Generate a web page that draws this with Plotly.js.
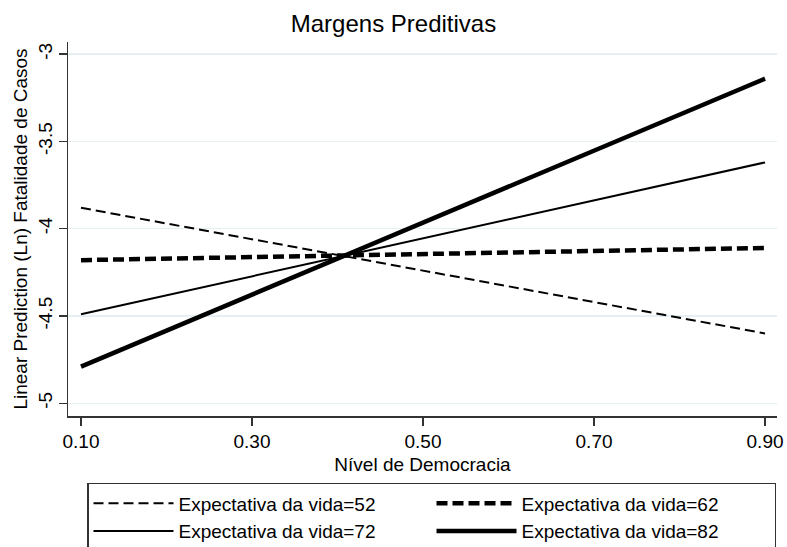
<!DOCTYPE html>
<html>
<head>
<meta charset="utf-8">
<script src="https://cdn.plot.ly/plotly-3.0.1.min.js"></script>
<style>
  html, body { margin: 0; padding: 0; background: #ffffff; overflow: hidden; }
  #chart { width: 787px; height: 566px; }
</style>
</head>
<body>
<div id="chart"></div>
<script>
// Democracy level (x) at which the margins were evaluated
const democracia = [0.10, 0.90];

// Linear prediction (Ln case fatality) for each life-expectancy level
const vida52 = [-3.88, -4.60];
const vida62 = [-4.18, -4.11];
const vida72 = [-4.49, -3.62];
const vida82 = [-4.79, -3.14];

const seriesNames = [
  "Expectativa da vida=52",
  "Expectativa da vida=62",
  "Expectativa da vida=72",
  "Expectativa da vida=82"
];

const xTickVals = [0.10, 0.30, 0.50, 0.70, 0.90];
const xTickText = ["0.10", "0.30", "0.50", "0.70", "0.90"];
const yTickVals = [-5, -4.5, -4, -3.5, -3];
const yTickText = ["-5", "-4.5", "-4", "-3.5", "-3"];

const FONT = "Liberation Sans, Arial, Helvetica, sans-serif";

const traces = [
  { x: democracia, y: vida52, name: seriesNames[0], mode: "lines",
    line: { color: "#000000", width: 2, dash: "10px,5px" } },
  { x: democracia, y: vida62, name: seriesNames[1], mode: "lines",
    line: { color: "#000000", width: 4.5, dash: "11px,5px" } },
  { x: democracia, y: vida72, name: seriesNames[2], mode: "lines",
    line: { color: "#000000", width: 2 } },
  { x: democracia, y: vida82, name: seriesNames[3], mode: "lines",
    line: { color: "#000000", width: 4.5 } }
];

// The reference picture is cropped at the bottom (legend box cut off),
// so the figure is a little taller than the 547px window.
const H = 566;
const layout = {
  width: 787,
  height: H,
  paper_bgcolor: "#ffffff",
  plot_bgcolor: "#ffffff",
  font: { family: FONT, size: 19, color: "#000000" },
  margin: { l: 68, r: 10, t: 42, b: H - 416, pad: 0 },
  title: {
    text: "Margens Preditivas",
    font: { family: FONT, size: 24, color: "#000000" },
    xref: "container", x: 0.5, xanchor: "center",
    yref: "container", y: 1 - 24 / H, yanchor: "middle"
  },
  xaxis: {
    range: [0.0848, 0.914],
    tickvals: xTickVals,
    ticktext: xTickText,
    ticks: "outside", ticklen: 8, tickwidth: 1.5, tickcolor: "#333333",
    showline: true, linecolor: "#333333", linewidth: 1.5,
    showgrid: false, zeroline: false,
    tickfont: { family: FONT, size: 19, color: "#000000" },
    title: { text: "Nível de Democracia", font: { family: FONT, size: 19, color: "#000000" }, standoff: 6 }
  },
  yaxis: {
    range: [-5.073, -2.93],
    tickvals: yTickVals,
    ticktext: yTickText,
    tickangle: -90,
    ticklabelstandoff: -1,
    ticks: "outside", ticklen: 8, tickwidth: 1.5, tickcolor: "#333333",
    showline: true, linecolor: "#333333", linewidth: 1.5,
    showgrid: true, gridcolor: "#e6eff1", gridwidth: 1.5,
    zeroline: false,
    tickfont: { family: FONT, size: 19, color: "#000000" },
    title: { text: "Linear Prediction (Ln) Fatalidade de Casos", font: { family: FONT, size: 19, color: "#000000" }, standoff: 2 }
  },
  showlegend: true,
  legend: {
    orientation: "h",
    x: 0.0268, xanchor: "left",
    y: -0.179, yanchor: "top",
    bgcolor: "#ffffff",
    bordercolor: "#333333", borderwidth: 1.5,
    font: { family: FONT, size: 19, color: "#000000" },
    entrywidth: 248, entrywidthmode: "pixels",
    itemwidth: 80,
    traceorder: "normal",
    tracegroupgap: 0
  }
};

Plotly.newPlot("chart", traces, layout, { displayModeBar: false, staticPlot: true });
</script>
</body>
</html>
